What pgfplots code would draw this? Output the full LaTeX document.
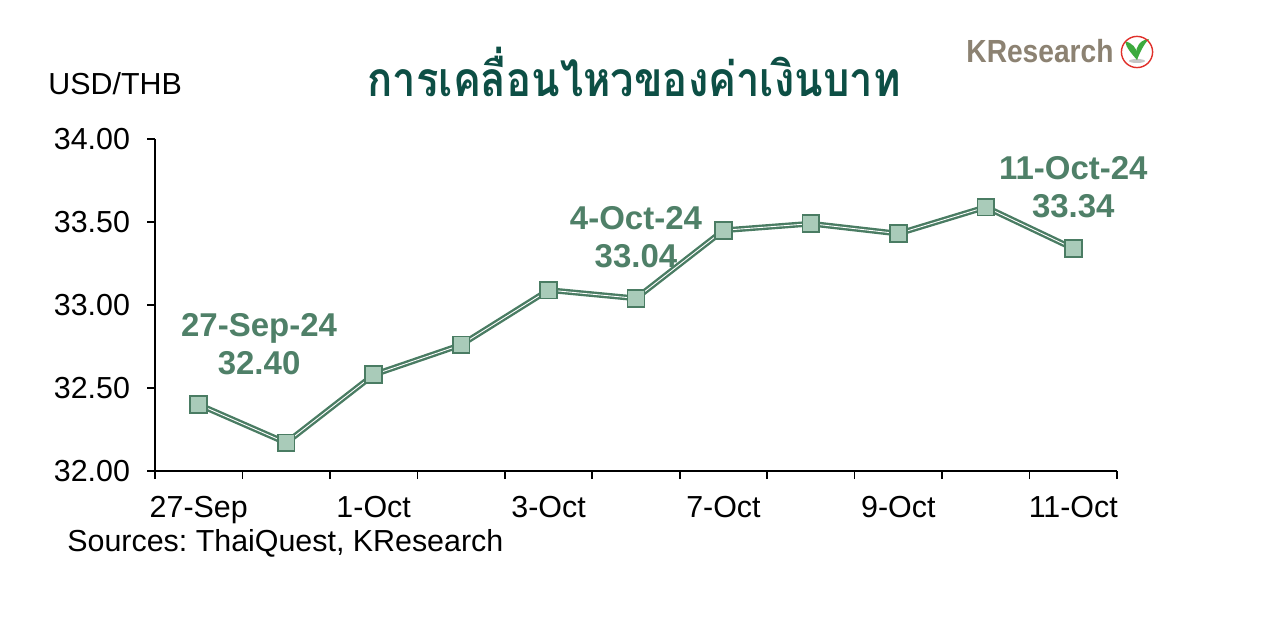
\documentclass[border=0pt]{standalone}
\usepackage{fontspec}
\setmainfont{Liberation Sans}
\newfontfamily\thaifont[Script=Thai]{Loma}
\usepackage{pgfplots}
\usepackage{pgfplotstable}
\pgfplotsset{compat=1.18}
\frenchspacing

\definecolor{kline}{HTML}{4A7C63}
\definecolor{kfill}{HTML}{A9CBB9}
\definecolor{kanno}{HTML}{4F8068}
\definecolor{ktitle}{HTML}{0D4F45}
\definecolor{klogo}{HTML}{8C8272}
\definecolor{kred}{HTML}{E0302A}
\definecolor{kgreen}{HTML}{3DAA3E}

% USD/THB closing rates, 27 Sep - 11 Oct 2024
\pgfplotstableread{
idx date value
0 27-Sep 32.40
1 30-Sep 32.17
2 1-Oct 32.58
3 2-Oct 32.76
4 3-Oct 33.09
5 4-Oct 33.04
6 7-Oct 33.45
7 8-Oct 33.49
8 9-Oct 33.43
9 10-Oct 33.59
10 11-Oct 33.34
}\fxdata

\begin{document}
\begin{tikzpicture}
\useasboundingbox (0,0) rectangle (630.5pt,-309.5pt);

\node[anchor=base, inner sep=0, text=ktitle,
  font=\thaifont\bfseries\fontsize{24}{28}\selectfont] at (317pt,-48.5pt)
  {\scalebox{0.87}[1]{การเคลื่อนไหวของค่าเงินบาท}};
\node[anchor=base west, inner sep=0, font=\fontsize{15.2}{17}\selectfont]
  at (24pt,-47.5pt) {USD/THB};
\node[anchor=base west, inner sep=0, font=\fontsize{15.2}{17}\selectfont]
  at (33.5pt,-275.5pt) {Sources: ThaiQuest, KResearch};

% logo
\node[anchor=base west, inner sep=0, text=klogo,
  font=\bfseries\fontsize{16}{18}\selectfont] at (483pt,-31.5pt)
  {\scalebox{0.88}[1]{KResearch}};
\fill[gray!45] (568.5pt,-30.5pt) ellipse (4pt and 1pt);
\fill[kgreen] (568.5pt,-30pt) .. controls (566pt,-27pt) and (563pt,-24pt) .. (562.5pt,-20.5pt)
  .. controls (566pt,-21.5pt) and (568.5pt,-24pt) .. (568.5pt,-27pt) -- cycle;
\fill[kgreen] (568.5pt,-30pt) .. controls (570pt,-26pt) and (572pt,-22pt) .. (574.5pt,-19.5pt)
  .. controls (570pt,-20pt) and (568pt,-23pt) .. (568pt,-27pt) -- cycle;
\draw[kred, line width=0.7pt] (568.5pt,-26pt) circle (7.8pt);

\begin{axis}[
  at={(77.5pt,-235.5pt)}, anchor=south west,
  scale only axis, width=481pt, height=166pt,
  xmin=-0.5, xmax=10.5, ymin=32, ymax=34,
  axis x line*=bottom, axis y line*=left,
  axis line style={black, line width=0.8pt},
  tick align=outside,
  major tick length=4pt, minor tick length=4pt,
  xtick={0,2,4,6,8,10},
  xticklabels={27-Sep,1-Oct,3-Oct,7-Oct,9-Oct,11-Oct},
  minor xtick={-0.5,0.5,...,10.5},
  major x tick style={draw=none},
  minor x tick style={black, line width=0.8pt},
  ytick={32,32.5,...,34},
  y tick style={black, line width=0.8pt},
  yticklabel style={xshift=-5pt, /pgf/number format/.cd, fixed, fixed zerofill, precision=2},
  xticklabel style={yshift=-5pt},
  /pgf/number format/assume math mode=true,
  tick label style={font=\fontsize{15.2}{17}\selectfont},
  clip=false,
]
\addplot[kline, line width=1.2pt, double=white, double distance=0.45pt]
  table[x=idx, y=value] {\fxdata};
\addplot[only marks, mark=square*, mark size=4.2pt,
  mark options={fill=kfill, draw=kline, line width=0.85pt}]
  table[x=idx, y=value] {\fxdata};

\node[align=center, text=kanno, font=\bfseries\fontsize{16.5}{19}\selectfont]
  at (axis cs:0.69,32.765) {27-Sep-24\\32.40};
\node[align=center, text=kanno, font=\bfseries\fontsize{16.5}{19}\selectfont]
  at (axis cs:5.0,33.41) {4-Oct-24\\33.04};
\node[align=center, text=kanno, font=\bfseries\fontsize{16.5}{19}\selectfont]
  at (axis cs:10.0,33.71) {11-Oct-24\\33.34};
\end{axis}
\end{tikzpicture}
\end{document}
